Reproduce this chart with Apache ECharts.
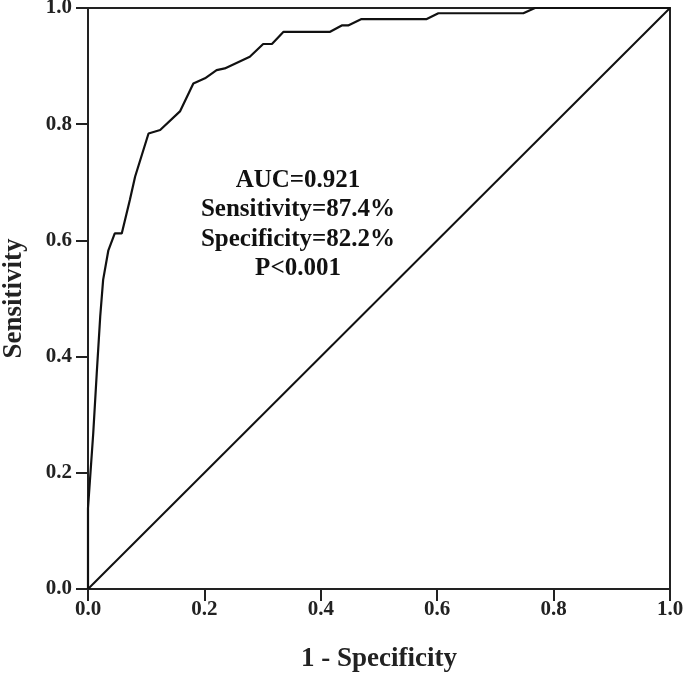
<!DOCTYPE html>
<html>
<head>
<meta charset="utf-8">
<script src="https://cdn.jsdelivr.net/npm/echarts@6/dist/echarts.min.js"></script>
<style>html,body{margin:0;padding:0;background:#fff}#c{width:685px;height:678px}</style>
</head>
<body>
<div id="c"></div>
<script>
var fpr = [0, 0, 0.002, 0.009, 0.015, 0.021, 0.026, 0.035, 0.046, 0.058, 0.072, 0.081, 0.104, 0.124, 0.158, 0.181, 0.201, 0.221, 0.235, 0.278, 0.301, 0.316, 0.336, 0.416, 0.436, 0.447, 0.470, 0.582, 0.602, 0.748, 0.768, 1.0];
var tpr = [0, 0.139, 0.139, 0.268, 0.371, 0.469, 0.532, 0.583, 0.612, 0.612, 0.670, 0.710, 0.784, 0.790, 0.822, 0.870, 0.879, 0.893, 0.896, 0.916, 0.938, 0.938, 0.959, 0.959, 0.970, 0.970, 0.981, 0.981, 0.991, 0.991, 1.0, 1.0];
var refX = [0, 1];
var refY = [0, 1];
var annotation = ['AUC=0.921', 'Sensitivity=87.4%', 'Specificity=82.2%', 'P<0.001'];
var tickLabels = ['0.0', '0.2', '0.4', '0.6', '0.8', '1.0'];

var font = '"Liberation Serif", "Times New Roman", serif';
var chart = echarts.init(document.getElementById('c'));
function axis(name, gap, margin) {
  return {
    type: 'value', min: 0, max: 1, interval: 0.2,
    axisLine: { show: true, lineStyle: { color: '#222', width: 2 } },
    axisTick: { show: true, length: 12, lineStyle: { color: '#222', width: 2 } },
    splitLine: { show: false },
    axisLabel: { fontFamily: font, fontWeight: 'bold', fontSize: 21, color: '#222', margin: margin,
      formatter: function (v) { return tickLabels[Math.round(v * 5)]; } },
    name: name, nameLocation: 'middle', nameGap: gap, nameMoveOverlap: false,
    nameTextStyle: { fontFamily: font, fontWeight: 'bold', fontSize: 27, color: '#222' }
  };
}
chart.setOption({
  animation: false,
  backgroundColor: '#fff',
  grid: { left: 88, right: 15, top: 8, bottom: 89, outerBoundsMode: 'none', containLabel: false,
    show: true, borderColor: '#222', borderWidth: 2, backgroundColor: 'transparent' },
  xAxis: axis('1 - Specificity', 57, 10),
  yAxis: axis('Sensitivity', 60, 16),
  graphic: [{
    type: 'text', z: 100, x: 298, y: 166,
    style: { text: annotation.join('\n'), fontFamily: font, fontWeight: 'bold', fontSize: 25, lineHeight: 29.3, fill: '#111', align: 'center' }
  }],
  series: [
    { type: 'line', data: fpr.map(function (x, i) { return [x, tpr[i]]; }), showSymbol: false, lineStyle: { color: '#111', width: 2.2 } },
    { type: 'line', data: refX.map(function (x, i) { return [x, refY[i]]; }), showSymbol: false, lineStyle: { color: '#111', width: 2 } }
  ]
});
</script>
</body>
</html>
